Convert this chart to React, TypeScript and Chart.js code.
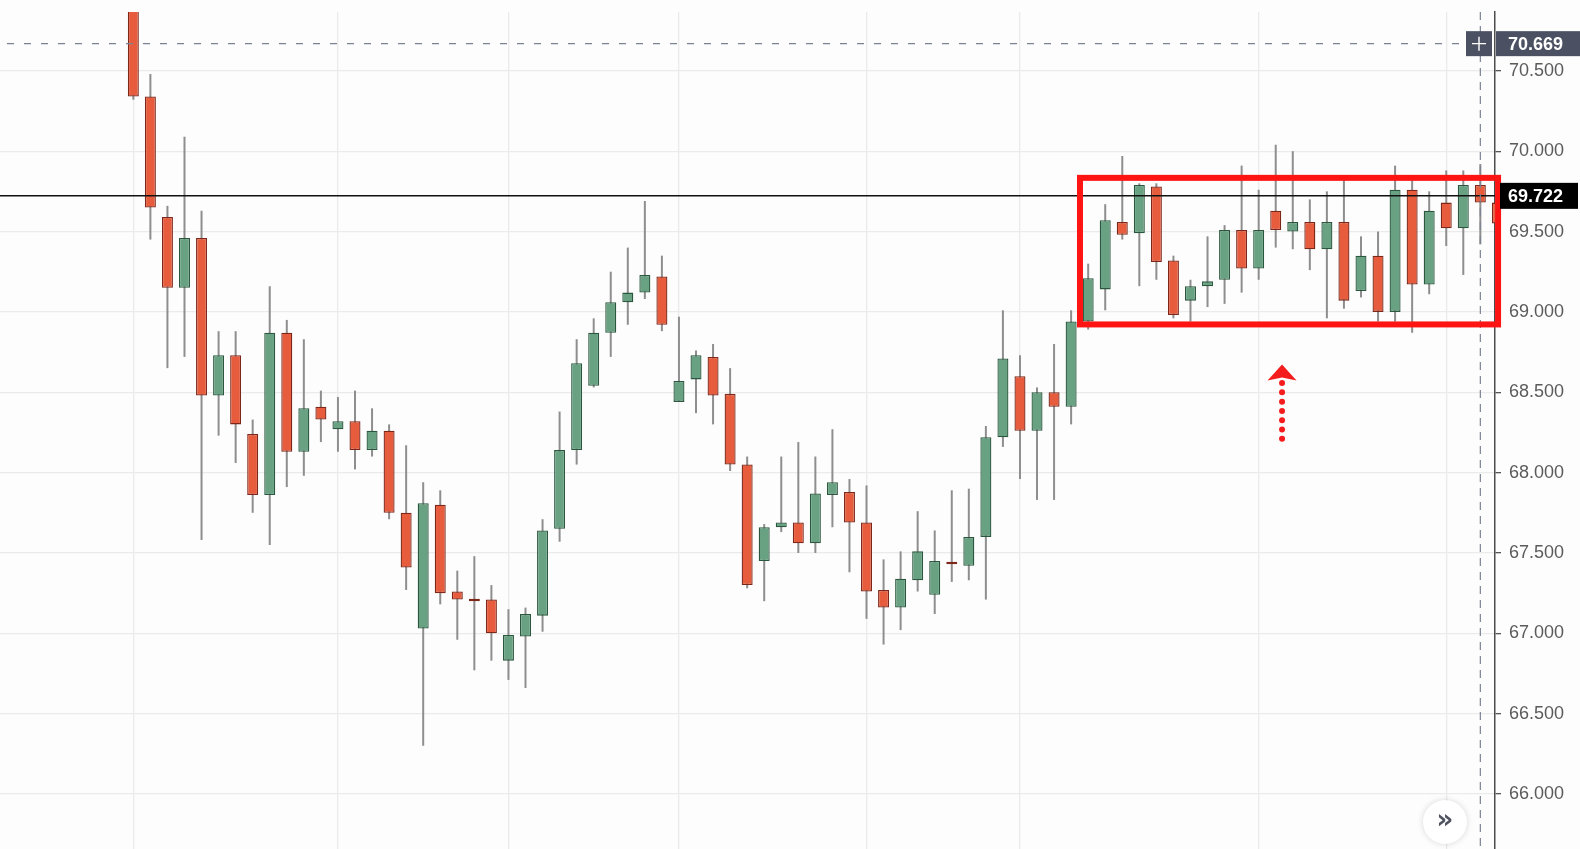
import React, { useEffect, useRef } from "react";
import { Chart, registerables } from "chart.js";

Chart.register(...registerables);

// ---- Candle data ----
const OPEN = [
  71.05, 70.34, 69.59, 69.15, 69.46, 68.48, 68.73, 68.24, 67.86, 68.87,
  68.13, 68.41, 68.27, 68.32, 68.14, 68.26, 67.75, 67.03, 67.8, 67.26,
  67.215, 67.21, 66.83, 66.98, 67.11, 67.65, 68.14, 68.54, 68.87, 69.06,
  69.12, 69.22, 68.44, 68.58, 68.72, 68.49, 68.05, 67.45, 67.66, 67.69,
  67.56, 67.86, 67.88, 67.69, 67.27, 67.16, 67.33, 67.24, 67.445, 67.42,
  67.6, 68.22, 68.6, 68.26, 68.5, 68.41, 68.94, 69.14, 69.56, 69.49,
  69.78, 69.32, 69.07, 69.16, 69.2, 69.51, 69.27, 69.63, 69.5, 69.56,
  69.39, 69.56, 69.13, 69.35, 69.0, 69.76, 69.17, 69.68, 69.52, 69.79,
  69.68,
];
const HIGH = [
  71.1, 70.48, 69.66, 70.09, 69.63, 68.88, 68.88, 68.33, 69.16, 68.95,
  68.83, 68.51, 68.47, 68.51, 68.4, 68.3, 68.17, 67.94, 67.89, 67.39,
  67.48, 67.3, 67.15, 67.16, 67.71, 68.38, 68.83, 68.96, 69.25, 69.4,
  69.69, 69.35, 68.97, 68.76, 68.8, 68.65, 68.1, 67.68, 68.1, 68.19,
  68.1, 68.27, 67.96, 67.92, 67.46, 67.51, 67.76, 67.64, 67.89, 67.9,
  68.29, 69.01, 68.73, 68.53, 68.8, 69.01, 69.3, 69.67, 69.97, 69.8,
  69.8, 69.35, 69.2, 69.47, 69.54, 69.91, 69.76, 70.04, 70.0, 69.7,
  69.75, 69.82, 69.47, 69.5, 69.91, 69.82, 69.75, 69.88, 69.88, 69.92,
  69.7,
];
const LOW = [
  70.32, 69.45, 68.65, 68.72, 67.58, 68.23, 68.06, 67.75, 67.55, 67.91,
  67.98, 68.19, 68.13, 68.02, 68.1, 67.71, 67.27, 66.3, 67.18, 66.96,
  66.77, 66.83, 66.71, 66.66, 67.01, 67.57, 68.05, 68.53, 68.72, 68.92,
  69.08, 68.88, 68.44, 68.37, 68.3, 68.01, 67.28, 67.2, 67.63, 67.5,
  67.5, 67.66, 67.38, 67.09, 66.93, 67.02, 67.26, 67.12, 67.32, 67.33,
  67.21, 68.16, 67.96, 67.83, 67.83, 68.3, 68.89, 69.01, 69.45, 69.16,
  69.2, 68.96, 68.94, 69.03, 69.05, 69.12, 69.2, 69.4, 69.39, 69.26,
  68.96, 69.02, 69.09, 68.94, 68.94, 68.87, 69.11, 69.41, 69.23, 69.42,
  69.53,
];
const CLOSE = [
  70.34, 69.65, 69.15, 69.46, 68.48, 68.73, 68.3, 67.86, 68.87, 68.13,
  68.4, 68.33, 68.32, 68.14, 68.26, 67.75, 67.41, 67.81, 67.25, 67.21,
  67.2, 67.0, 66.99, 67.12, 67.64, 68.14, 68.68, 68.87, 69.06, 69.12,
  69.23, 68.92, 68.57, 68.73, 68.48, 68.05, 67.3, 67.66, 67.69, 67.56,
  67.87, 67.94, 67.69, 67.26, 67.16, 67.34, 67.51, 67.45, 67.43, 67.6,
  68.22, 68.71, 68.26, 68.5, 68.41, 68.94, 69.21, 69.57, 69.48, 69.79,
  69.31, 68.98, 69.16, 69.19, 69.51, 69.27, 69.51, 69.51, 69.56, 69.39,
  69.56, 69.07, 69.35, 69.0, 69.76, 69.17, 69.63, 69.52, 69.79, 69.68,
  69.55,
];

// time-axis grid positions (candle indices) and price ticks
const GRID_X = [0, 12, 22, 32, 43, 52, 66, 77];
const PRICE_TICKS = [66, 66.5, 67, 67.5, 68, 68.5, 69, 69.5, 70, 70.5];

// visible window
const X_MIN = -7.82;
const X_MAX = 79.86;
const Y_MIN = 65.658;
const Y_MAX = 70.866;

// markers
const LAST_PRICE = 69.722;
const CROSS_PRICE = 70.669;
const CROSS_INDEX = 79;
const BOX_X = [55.52, 80.04];
const BOX_Y = [68.922, 69.834];
const ARROW_X = 67.37;
const ARROW_Y = [68.21, 68.673];

const RED_FILL = "#e65c3d";
const RED_LINE = "#7c271a";
const GREEN_FILL = "#68a283";
const GREEN_LINE = "#2a573e";
const WICK = "#8e8e8e";
const FONT = "'Liberation Sans', Arial, sans-serif";

const annotations = {
  id: "annotations",
  beforeDraw(chart: any) {
    const { ctx } = chart;
    ctx.save();
    ctx.fillStyle = "#fdfdfd";
    ctx.fillRect(0, 0, chart.width, chart.height);
    ctx.restore();
  },
  afterDatasetsDraw(chart: any) {
    const { ctx, chartArea: a, scales } = chart;
    const xs = scales.x;
    const ys = scales.y;
    ctx.save();
    ctx.beginPath();
    ctx.rect(a.left, a.top, a.right - a.left, a.bottom - a.top);
    ctx.clip();
    // last price line
    const ly = ys.getPixelForValue(LAST_PRICE);
    ctx.strokeStyle = "#111111";
    ctx.lineWidth = 1.5;
    ctx.beginPath();
    ctx.moveTo(a.left, ly);
    ctx.lineTo(a.right, ly);
    ctx.stroke();
    // crosshair
    const cy = ys.getPixelForValue(CROSS_PRICE);
    const cx = xs.getPixelForValue(CROSS_INDEX);
    ctx.strokeStyle = "#7b8393";
    ctx.lineWidth = 1.2;
    ctx.setLineDash([7, 10]);
    ctx.beginPath();
    ctx.moveTo(a.left + 7, cy);
    ctx.lineTo(a.right - 30, cy);
    ctx.stroke();
    ctx.setLineDash([8, 6]);
    ctx.beginPath();
    ctx.moveTo(cx, a.top);
    ctx.lineTo(cx, a.bottom);
    ctx.stroke();
    ctx.restore();
  },
  afterDraw(chart: any) {
    const { ctx, chartArea: a, scales } = chart;
    const xs = scales.x;
    const ys = scales.y;
    ctx.save();
    // range rectangle
    const x0 = xs.getPixelForValue(BOX_X[0]);
    const x1 = xs.getPixelForValue(BOX_X[1]);
    const y0 = ys.getPixelForValue(BOX_Y[1]);
    const y1 = ys.getPixelForValue(BOX_Y[0]);
    ctx.strokeStyle = "#ff1414";
    ctx.lineWidth = 6;
    ctx.strokeRect(x0, y0, x1 - x0, y1 - y0);
    // dotted arrow
    const ax = xs.getPixelForValue(ARROW_X);
    const tail = ys.getPixelForValue(ARROW_Y[0]);
    const tip = ys.getPixelForValue(ARROW_Y[1]);
    const base = tip + 16;
    ctx.fillStyle = "#f41c1c";
    for (let y = tail; y >= base + 2; y -= 9.3) {
      ctx.beginPath();
      ctx.arc(ax, y, 3, 0, Math.PI * 2);
      ctx.fill();
    }
    ctx.beginPath();
    ctx.moveTo(ax, tip);
    ctx.lineTo(ax + 14.5, base);
    ctx.lineTo(ax, base - 3);
    ctx.lineTo(ax - 14.5, base);
    ctx.closePath();
    ctx.fill();

    // crosshair price label and plus button
    const cy = ys.getPixelForValue(CROSS_PRICE);
    ctx.fillStyle = "#4b5163";
    ctx.fillRect(a.right - 29, cy - 12.5, 26, 25);
    ctx.fillRect(a.right + 1, cy - 12.5, chart.width - a.right - 1, 25);
    ctx.strokeStyle = "#ffffff";
    ctx.lineWidth = 1.4;
    ctx.beginPath();
    ctx.moveTo(a.right - 23, cy);
    ctx.lineTo(a.right - 9, cy);
    ctx.moveTo(a.right - 16, cy - 7);
    ctx.lineTo(a.right - 16, cy + 7);
    ctx.stroke();
    ctx.fillStyle = "#ffffff";
    ctx.font = `bold 18px ${FONT}`;
    ctx.textBaseline = "middle";
    ctx.textAlign = "left";
    ctx.fillText(CROSS_PRICE.toFixed(3), a.right + 13, cy + 1);

    // last price label
    const ly = ys.getPixelForValue(LAST_PRICE);
    ctx.fillStyle = "#000000";
    ctx.fillRect(a.right + 5, ly - 13, chart.width - a.right - 7, 26);
    ctx.fillStyle = "#ffffff";
    ctx.fillText(LAST_PRICE.toFixed(3), a.right + 13, ly + 1);

    // scroll-to-end button
    const bx = a.right - 50;
    const by = a.bottom - 27;
    ctx.shadowColor = "rgba(0,0,0,0.15)";
    ctx.shadowBlur = 6;
    ctx.fillStyle = "#ffffff";
    ctx.beginPath();
    ctx.arc(bx, by, 22, 0, Math.PI * 2);
    ctx.fill();
    ctx.shadowBlur = 0;
    ctx.shadowColor = "transparent";
    ctx.fillStyle = "#4f5360";
    ctx.font = "bold 26px 'DejaVu Sans'";
    ctx.textAlign = "center";
    ctx.fillText("\u00bb", bx, by - 1);
    ctx.restore();
  },
};

export default function App() {
  const ref = useRef<HTMLCanvasElement>(null);
  useEffect(() => {
    document.body.style.margin = "0";
    const idx = OPEN.map((_, i) => i);
    const up = (i: number) => CLOSE[i] > OPEN[i];
    const chart = new Chart(ref.current as HTMLCanvasElement, {
      type: "bar",
      data: {
        datasets: [
          {
            label: "body",
            data: idx.map((i) => ({ x: i, y: [OPEN[i], CLOSE[i]] })) as any,
            backgroundColor: idx.map((i) => (up(i) ? GREEN_FILL : RED_FILL)),
            borderColor: idx.map((i) => (up(i) ? GREEN_LINE : RED_LINE)),
            borderWidth: 1.3,
            borderSkipped: false,
            grouped: false,
            maxBarThickness: 11,
            clip: 0,
            order: 0,
          } as any,
          {
            label: "wick",
            data: idx.map((i) => ({ x: i, y: [LOW[i], HIGH[i]] })) as any,
            backgroundColor: WICK,
            borderWidth: 0,
            grouped: false,
            maxBarThickness: 2,
            clip: 0,
            order: 1,
          } as any,
        ],
      },
      options: {
        responsive: false,
        animation: false,
        layout: { padding: { top: 12, left: 0, right: 0, bottom: 0 } },
        plugins: { legend: { display: false }, tooltip: { enabled: false } },
        scales: {
          x: {
            type: "linear",
            min: X_MIN,
            max: X_MAX,
            offset: false,
            grid: { color: "#ebebeb", lineWidth: 1.3, drawTicks: false, offset: false },
            border: { display: false },
            ticks: { display: false },
            afterBuildTicks: (s: any) => {
              s.ticks = GRID_X.map((v) => ({ value: v }));
            },
            afterFit: (s: any) => {
              s.height = 0;
              s.paddingLeft = 0;
              s.paddingRight = 0;
              s.paddingTop = 0;
              s.paddingBottom = 0;
            },
          },
          y: {
            type: "linear",
            position: "right",
            min: Y_MIN,
            max: Y_MAX,
            afterBuildTicks: (s: any) => {
              s.ticks = PRICE_TICKS.map((v) => ({ value: v }));
            },
            afterFit: (s: any) => {
              s.width = 85;
              s.paddingTop = 0;
              s.paddingBottom = 0;
              s.paddingLeft = 0;
              s.paddingRight = 0;
            },
            ticks: {
              callback: (v: any) => Number(v).toFixed(3),
              color: "#5b5b5b",
              font: { family: FONT, size: 18 },
              padding: 8,
            },
            grid: { color: "#ebebeb", lineWidth: 1.3, tickLength: 6, tickColor: "#555555" },
            border: { display: true, color: "#4d4d4d", width: 1.5 },
          },
        } as any,
      },
      plugins: [annotations],
    });
    return () => chart.destroy();
  }, []);
  return (
    <div style={{ position: "fixed", left: 0, top: 0, width: 1580, height: 849, background: "#fdfdfd" }}>
      <canvas ref={ref} width={1580} height={849} style={{ display: "block", width: 1580, height: 849 }} />
    </div>
  );
}
